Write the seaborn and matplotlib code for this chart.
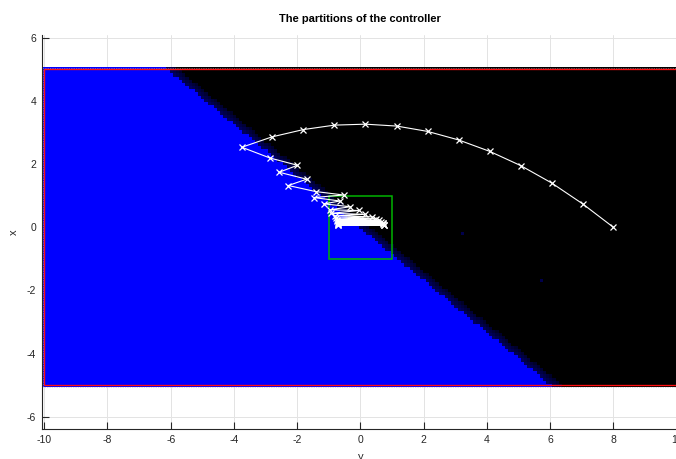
import numpy as np
import pandas as pd
import matplotlib
matplotlib.use("Agg")
import matplotlib.pyplot as plt
from matplotlib.patches import Rectangle
import seaborn as sns

# ---- data -------------------------------------------------------------
# switching edge of the controller partition (v at the top and bottom rows)
edge_x = [5.0, -5.0]
edge_v = [-6.15, 6.02]
# width of the undecided band on the far side of the edge
band_width = 0.35
# isolated undecided cells (v, x)
stray_v = [5.7, 3.2]
stray_x = [-1.7, -0.2]

# closed-loop trajectory (v, x)
traj_v = [8.0, 7.03, 6.05, 5.07, 4.09, 3.11, 2.13, 1.15, 0.16, -0.82, -1.80,
          -2.79, -3.75, -2.86, -1.99, -2.57, -1.70, -2.28, -1.42, -0.53,
          -1.48, -0.64, -1.16, -0.32, -0.97, -0.04, -0.93, 0.15, -0.79, 0.37,
          -0.76, 0.50, -0.74, 0.60, -0.73, 0.66, -0.72, 0.70, -0.72, 0.72,
          -0.71, 0.73, -0.71, 0.74, -0.70, 0.74, -0.70, 0.74]
traj_x = [0.0, 0.74, 1.40, 1.95, 2.40, 2.76, 3.03, 3.20, 3.26, 3.23, 3.09,
          2.86, 2.53, 2.19, 1.96, 1.74, 1.52, 1.32, 1.13, 1.02,
          0.94, 0.83, 0.74, 0.65, 0.55, 0.53, 0.44, 0.41, 0.36, 0.33,
          0.29, 0.27, 0.24, 0.22, 0.20, 0.18, 0.16, 0.15, 0.13, 0.12,
          0.11, 0.10, 0.09, 0.08, 0.07, 0.07, 0.06, 0.06]

xticks = [-10, -8, -6, -4, -2, 0, 2, 4, 6, 8, 10]
yticks = [-6, -4, -2, 0, 2, 4, 6]

# ---- style ------------------------------------------------------------
sns.set_style("ticks")
plt.rcParams["font.family"] = ["Liberation Sans", "DejaVu Sans"]
plt.rcParams["xtick.direction"] = "in"
plt.rcParams["ytick.direction"] = "in"

fig = plt.figure(figsize=(6.76, 4.59), dpi=100)
ax = fig.add_axes([41.7 / 676, 30 / 459, 637.4 / 676, 394 / 459])

# ---- partition grid (0.1 cells over the state box) --------------------
step = 0.1
cv = np.round(np.arange(-10.0, 10.0 + step / 2, step), 2)
cx = np.round(np.arange(-5.0, 5.0 + step / 2, step), 2)
V, X = np.meshgrid(cv, cx)
xb = np.interp(X, edge_x[::-1], edge_v[::-1])
d = V - xb
img = np.zeros(V.shape + (3,))
img[d < 0] = (0.0, 0.0, 1.0)
band = (d >= 0) & (d < band_width)
shade = 0.38 - 0.22 * (d / band_width)
img[..., 2] = np.where(band, shade, img[..., 2])
for sv, sx in zip(stray_v, stray_x):
    i = int(np.argmin(np.abs(cx - sx)))
    j = int(np.argmin(np.abs(cv - sv)))
    img[i, j] = (0.0, 0.0, 0.3)

ax.imshow(img, extent=[-10.05, 10.05, -5.05, 5.05], origin="lower",
          interpolation="nearest", aspect="auto", zorder=1)
ax.add_patch(Rectangle((-10.05, -5.05), 20.1, 10.1, fill=False,
                       edgecolor="#b8b8d0", linestyle=(0, (1, 1.5)),
                       linewidth=0.5, zorder=2))
ax.add_patch(Rectangle((-10, -5), 20, 10, fill=False, edgecolor="#ff1010",
                       linewidth=0.95, zorder=3))
ax.add_patch(Rectangle((-1, -1), 2, 2, fill=False, edgecolor="#00b400",
                       linewidth=1.1, zorder=4))

traj = pd.DataFrame({"v": traj_v, "x": traj_x})
sns.lineplot(data=traj, x="v", y="x", sort=False, estimator=None, ax=ax,
             color="white", linewidth=0.8, marker="x", markersize=5,
             markeredgecolor="white", markeredgewidth=0.9, zorder=5)

# ---- axes -------------------------------------------------------------
ax.set_xlim(-10.08, 10.08)
ax.set_ylim(-6.38, 6.08)
ax.set_xticks(xticks)
ax.set_yticks(yticks)
ax.set_xticklabels([str(t) for t in xticks])
ax.set_yticklabels([str(t) for t in yticks])
ax.grid(True, color="#e3e3e3", linewidth=0.7)
ax.set_axisbelow(True)
for s in ("top", "right"):
    ax.spines[s].set_visible(False)
for s in ("left", "bottom"):
    ax.spines[s].set_color("#262626")
    ax.spines[s].set_linewidth(0.8)
ax.tick_params(axis="both", labelsize=7.5, colors="#262626", length=5,
               width=0.8, pad=4)
ax.set_xlabel("y", fontsize=8, color="#262626", labelpad=5)
ax.set_ylabel("x", fontsize=8, color="#262626", labelpad=6)
ax.set_title("The partitions of the controller", fontsize=8,
             fontweight="bold", color="black", pad=9)

fig.savefig("out.png", dpi=100)
